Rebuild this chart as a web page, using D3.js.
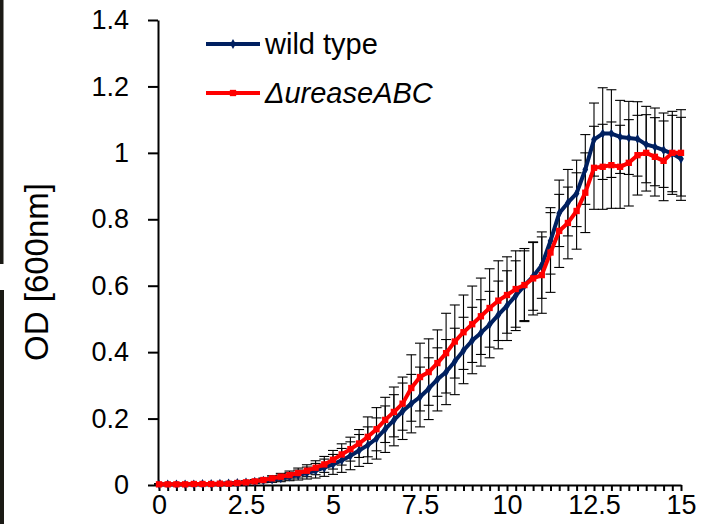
<!DOCTYPE html>
<html>
<head>
<meta charset="utf-8">
<script src="https://cdn.jsdelivr.net/npm/d3@7"></script>
<style>
  body { margin: 0; background: #fff; }
  svg { display: block; font-family: "Liberation Sans", Arial, sans-serif; }
  .axis path, .axis line { stroke: #000; stroke-width: 2; }
  .axis text { font-size: 27px; fill: #000; }
  .err line { stroke: #000; stroke-width: 1.1; }
</style>
</head>
<body>
<svg id="chart"></svg>
<script>
// growth curve, OD600 every 15 min
const width = 710;
const height = 524;

const hours = [
  0, 0.25, 0.5, 0.75, 1, 1.25, 1.5, 1.75, 2, 2.25, 2.5, 2.75,
  3, 3.25, 3.5, 3.75, 4, 4.25, 4.5, 4.75, 5, 5.25, 5.5, 5.75,
  6, 6.25, 6.5, 6.75, 7, 7.25, 7.5, 7.75, 8, 8.25, 8.5, 8.75,
  9, 9.25, 9.5, 9.75, 10, 10.25, 10.5, 10.75, 11, 11.25, 11.5, 11.75,
  12, 12.25, 12.5, 12.75, 13, 13.25, 13.5, 13.75, 14, 14.25, 14.5, 14.75, 15
];

const wildType = [
  0.002, 0.002, 0.002, 0.002, 0.002, 0.003, 0.003, 0.004, 0.005, 0.006, 0.008, 0.010,
  0.013, 0.016, 0.020, 0.025, 0.030, 0.036, 0.043, 0.052, 0.062, 0.074, 0.088, 0.104,
  0.120, 0.140, 0.168, 0.195, 0.222, 0.245, 0.265, 0.290, 0.318, 0.340, 0.372, 0.405,
  0.435, 0.458, 0.483, 0.512, 0.540, 0.570, 0.600, 0.628, 0.662, 0.735, 0.818, 0.850,
  0.878, 0.950, 1.040, 1.058, 1.058, 1.048, 1.045, 1.042, 1.025, 1.018, 1.008, 0.998, 0.982
];

const wildTypeErr = [
  0.002, 0.002, 0.002, 0.002, 0.002, 0.002, 0.002, 0.003, 0.003, 0.004, 0.004, 0.005,
  0.006, 0.008, 0.010, 0.012, 0.015, 0.018, 0.022, 0.026, 0.030, 0.036, 0.042, 0.048,
  0.055, 0.062, 0.070, 0.077, 0.085, 0.088, 0.090, 0.093, 0.095, 0.098, 0.100, 0.100,
  0.100, 0.100, 0.100, 0.102, 0.105, 0.105, 0.105, 0.102, 0.100, 0.100, 0.100, 0.100,
  0.100, 0.105, 0.110, 0.138, 0.132, 0.110, 0.110, 0.112, 0.115, 0.117, 0.112, 0.115, 0.125
];

const mutant = [
  0.002, 0.002, 0.002, 0.002, 0.003, 0.003, 0.003, 0.004, 0.004, 0.006, 0.008, 0.011,
  0.015, 0.020, 0.025, 0.030, 0.036, 0.043, 0.052, 0.062, 0.076, 0.092, 0.108, 0.125,
  0.145, 0.168, 0.196, 0.220, 0.245, 0.292, 0.325, 0.340, 0.367, 0.397, 0.432, 0.460,
  0.484, 0.508, 0.533, 0.555, 0.572, 0.590, 0.602, 0.622, 0.632, 0.700, 0.765, 0.789,
  0.825, 0.880, 0.955, 0.958, 0.963, 0.958, 0.970, 0.993, 1.000, 0.988, 0.976, 1.000, 1.000
];

const mutantErr = [
  0.002, 0.002, 0.002, 0.002, 0.002, 0.002, 0.002, 0.002, 0.003, 0.003, 0.004, 0.005,
  0.006, 0.008, 0.010, 0.012, 0.015, 0.018, 0.021, 0.024, 0.028, 0.032, 0.036, 0.042,
  0.060, 0.065, 0.068, 0.075, 0.080, 0.100, 0.102, 0.100, 0.100, 0.120, 0.110, 0.112,
  0.115, 0.115, 0.118, 0.120, 0.115, 0.115, 0.110, 0.110, 0.115, 0.120, 0.110, 0.108,
  0.115, 0.120, 0.125, 0.128, 0.130, 0.125, 0.130, 0.120, 0.115, 0.118, 0.120, 0.125, 0.130
];

const yTicks = [0, 0.2, 0.4, 0.6, 0.8, 1, 1.2, 1.4];
const xLabels = [0, 2.5, 5, 7.5, 10, 12.5, 15];

const seriesNames = ["wild type", "\u0394ureaseABC"];
const seriesColors = ["#002060", "#ff0000"];

margin = {
  top: 20,
  bottom: 39,
  left: 159,
  right: 29
};

const svg = d3.select("#chart");
svg.attr("width", width);
svg.attr("height", height);

const xScale = d3.scaleLinear()
  .domain([0, 15])
  .range([margin.left, width - margin.right]);

const yScale = d3.scaleLinear()
  .domain([0, 1.4])
  .range([height - margin.bottom, margin.top]);

const series = [
  { name: seriesNames[0], color: seriesColors[0], values: wildType, errs: wildTypeErr, marker: "diamond" },
  { name: seriesNames[1], color: seriesColors[1], values: mutant, errs: mutantErr, marker: "square" }
];

drawEdge();
drawAxis();
drawTitles();
series.forEach(drawErrors);
series.forEach(drawSeries);
drawLegend();

// dark strip left over from the cropped slide
function drawEdge() {
  svg.append("rect").attr("x", 0).attr("y", 0).attr("width", 3.5).attr("height", 264).attr("fill", "#1b1a15");
  svg.append("rect").attr("x", 0).attr("y", 290).attr("width", 4).attr("height", height - 290).attr("fill", "#1b1a15");
}

function drawAxis() {
  let xAxis = d3.axisBottom(xScale)
    .tickValues(hours)
    .tickSize(6)
    .tickSizeOuter(0)
    .tickPadding(4)
    .tickFormat(d => xLabels.includes(d) ? String(d) : "");

  let yAxis = d3.axisLeft(yScale)
    .tickValues(yTicks)
    .tickSize(10)
    .tickSizeOuter(0)
    .tickPadding(19)
    .tickFormat(d => String(d));

  svg.append("g")
    .attr("class", "axis")
    .attr("transform", translate(0, yScale(0)))
    .call(xAxis);

  svg.append("g")
    .attr("class", "axis")
    .attr("transform", translate(margin.left - 1, 0))
    .call(yAxis);
}

function drawTitles() {
  let yGroup = svg.append("g")
    .attr("transform", translate(36, 272));

  yGroup.append("text")
    .attr("text-anchor", "middle")
    .attr("dy", "0.36em")
    .attr("transform", "rotate(-90)")
    .style("font-size", "33px")
    .text("OD [600nm]");
}

function drawErrors(s) {
  let g = svg.append("g").attr("class", "err");
  let cap = 5;

  hours.forEach((h, i) => {
    let x = xScale(h);
    let top = yScale(s.values[i] + s.errs[i]);
    let bottom = yScale(s.values[i] - s.errs[i]);
    g.append("line").attr("x1", x).attr("x2", x).attr("y1", top).attr("y2", bottom);
    g.append("line").attr("x1", x - cap).attr("x2", x + cap).attr("y1", top).attr("y2", top);
    g.append("line").attr("x1", x - cap).attr("x2", x + cap).attr("y1", bottom).attr("y2", bottom);
  });
}

function drawSeries(s) {
  let line = d3.line()
    .x((d, i) => xScale(hours[i]))
    .y(d => yScale(d));

  svg.append("path")
    .datum(s.values)
    .attr("fill", "none")
    .attr("stroke", s.color)
    .attr("stroke-width", 4)
    .attr("stroke-linejoin", "round")
    .attr("d", line);

  let symbol = d3.symbol()
    .type(s.marker == "diamond" ? d3.symbolDiamond : d3.symbolSquare)
    .size(s.marker == "diamond" ? 28 : 40);

  svg.append("g")
    .selectAll("path")
    .data(s.values)
    .enter()
    .append("path")
    .attr("d", symbol)
    .attr("fill", s.color)
    .attr("transform", (d, i) => translate(xScale(hours[i]), yScale(d)));
}

function drawLegend() {
  let rows = [44, 93];

  series.forEach((s, i) => {
    let g = svg.append("g").attr("transform", translate(206, rows[i]));

    g.append("line")
      .attr("x1", 0).attr("x2", 54)
      .attr("y1", 0).attr("y2", 0)
      .attr("stroke", s.color)
      .attr("stroke-width", 4);

    let symbol = d3.symbol()
      .type(s.marker == "diamond" ? d3.symbolDiamond : d3.symbolSquare)
      .size(s.marker == "diamond" ? 28 : 40);

    g.append("path")
      .attr("d", symbol)
      .attr("fill", s.color)
      .attr("transform", translate(27, 0));

    g.append("text")
      .attr("x", 59)
      .attr("dy", "0.36em")
      .style("font-size", "29px")
      .style("font-style", i == 1 ? "italic" : "normal")
      .text(s.name);
  });
}

function translate(x, y) {
  return "translate(" + String(x) + "," + String(y) + ")";
}
</script>
</body>
</html>
